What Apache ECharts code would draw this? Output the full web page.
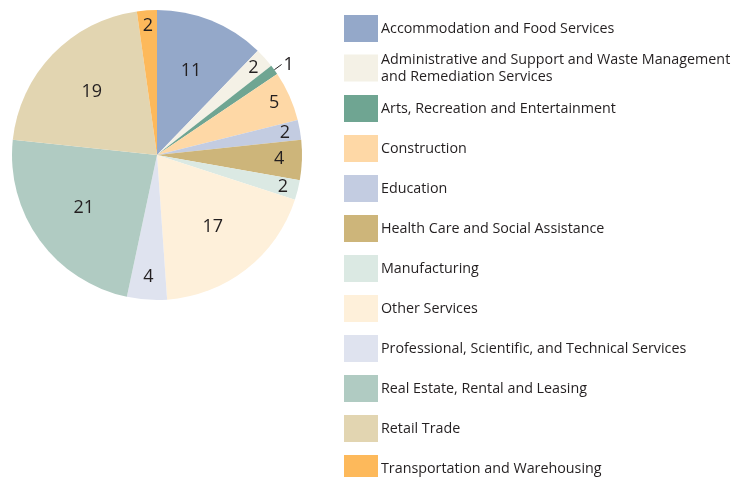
<!DOCTYPE html>
<html>
<head>
<meta charset="utf-8">
<script src="https://cdn.jsdelivr.net/npm/echarts@6/dist/echarts.min.js"></script>
<style>
  html, body { margin: 0; padding: 0; background: #fff; }
  #chart { width: 743px; height: 477px; }
</style>
</head>
<body>
<div id="chart"></div>
<script>
const industries = [
  'Accommodation and Food Services',
  'Administrative and Support and Waste Management\nand Remediation Services',
  'Arts, Recreation and Entertainment',
  'Construction',
  'Education',
  'Health Care and Social Assistance',
  'Manufacturing',
  'Other Services',
  'Professional, Scientific, and Technical Services',
  'Real Estate, Rental and Leasing',
  'Retail Trade',
  'Transportation and Warehousing'
]
const shares = [11, 2, 1, 5, 2, 4, 2, 17, 4, 21, 19, 2]
const colors = ['#94a8c9', '#f4f1e6', '#6fa592', '#fed8a6', '#c3cce1', '#cdb57a',
  '#dbe9e3', '#fef0da', '#dfe3ef', '#b0cbc2', '#e2d5b1', '#fdb95b']

const cx = 157, cy = 155, R = 145
const font = '"Open Sans", sans-serif'
const textColor = '#231f20'

const chart = echarts.init(document.getElementById('chart'), null, { renderer: 'canvas' })

const legendBase = {
  orient: 'vertical',
  left: 344,
  padding: 0,
  height: 420,
  itemWidth: 34,
  itemHeight: 27,
  icon: 'rect',
  textStyle: { fontFamily: font, fontSize: 14.3, color: textColor, lineHeight: 17, padding: [0, 0, 0, -2] },
  selectedMode: false
}

// how far out (relative to half the radius) each label sits
function labelScale(v) {
  if (v >= 10) return 1.2
  if (v === 5) return 1.7
  if (v >= 4) return 1.62
  return 1.72
}

const option = {
  color: colors,
  animation: false,
  legend: [
    Object.assign({}, legendBase, { top: 15, itemGap: 9, data: industries.slice(0, 2) }),
    Object.assign({}, legendBase, { top: 95, itemGap: 13, data: industries.slice(2) })
  ],
  series: [
    {
      type: 'pie',
      center: [cx, cy],
      radius: R,
      startAngle: 90,
      clockwise: true,
      avoidLabelOverlap: false,
      label: {
        position: 'inside',
        formatter: '{c}',
        fontFamily: font,
        fontSize: 18,
        color: textColor
      },
      labelLine: { show: false },
      labelLayout: function (p) {
        const v = shares[p.dataIndex]
        if (v === 1) return null
        const lx = p.labelRect.x + p.labelRect.width / 2
        const ly = p.labelRect.y + p.labelRect.height / 2
        const k = labelScale(v)
        return { x: cx + (lx - cx) * k, y: cy + (ly - cy) * k }
      },
      itemStyle: { borderWidth: 0 },
      emphasis: { disabled: true },
      data: industries.map(function (name, i) {
        const item = { name: name, value: shares[i] }
        if (shares[i] === 1) {
          item.label = { position: 'outside', distanceToLabelLine: 2 }
          item.labelLine = { show: true, length: 9, length2: 0, lineStyle: { color: textColor, width: 1 } }
        }
        return item
      })
    }
  ]
}

chart.setOption(option)
</script>
</body>
</html>
